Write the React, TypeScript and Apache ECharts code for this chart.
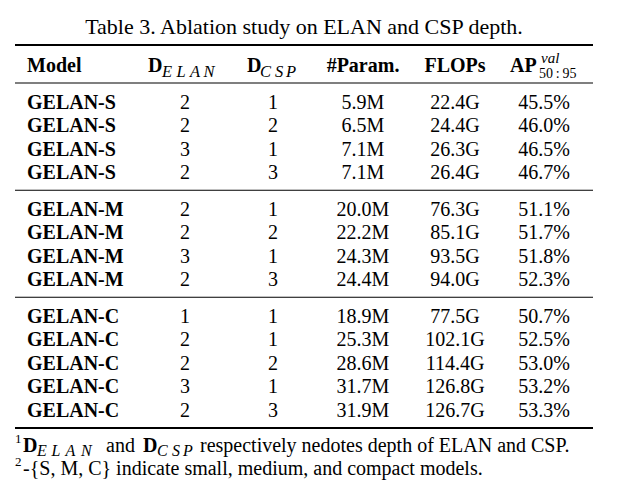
import React, { useEffect, useRef } from "react";
import * as echarts from "echarts";

const title = "Table 3. Ablation study on ELAN and CSP depth.";
const headers = ["Model", "#Param.", "FLOPs"];
const models = [
  "GELAN-S", "GELAN-S", "GELAN-S", "GELAN-S",
  "GELAN-M", "GELAN-M", "GELAN-M", "GELAN-M",
  "GELAN-C", "GELAN-C", "GELAN-C", "GELAN-C", "GELAN-C",
];
const dElan = [2, 2, 3, 2, 2, 2, 3, 2, 1, 2, 2, 3, 2];
const dCsp = [1, 2, 1, 3, 1, 2, 1, 3, 1, 1, 2, 1, 3];
const paramsM = [5.9, 6.5, 7.1, 7.1, 20.0, 22.2, 24.3, 24.4, 18.9, 25.3, 28.6, 31.7, 31.9];
const flopsG = [22.4, 24.4, 26.3, 26.4, 76.3, 85.1, 93.5, 94.0, 77.5, 102.1, 114.4, 126.8, 126.7];
const ap = [45.5, 46.0, 46.5, 46.7, 51.1, 51.7, 51.8, 52.3, 50.7, 52.5, 53.0, 53.2, 53.3];
const groupSizes = [4, 4, 5];
const footnote1 = "respectively nedotes depth of ELAN and CSP.";
const footnote2 = "-{S, M, C} indicate small, medium, and compact models.";

const FONT = "'Liberation Serif', 'Times New Roman', serif";

export default function App() {
  const ref = useRef<HTMLDivElement>(null);
  useEffect(() => {
    document.body.style.margin = "0";
    const chart = echarts.init(ref.current!, null, { renderer: "svg" });
    const els: any[] = [];
    const txt = (text: string, x: number, y: number, o: any = {}) => {
      const align = o.align || "left";
      els.push({
        type: "text",
        x,
        y,
        silent: true,
        style: {
          text,
          fill: "#000",
          fontFamily: FONT,
          fontSize: 20,
          fontWeight: "normal",
          fontStyle: "normal",
          ...o,
          align,
          textAlign: align,
          verticalAlign: "middle",
          textVerticalAlign: "middle",
        },
      });
    };
    const rule = (y: number, h: number) =>
      els.push({ type: "rect", silent: true, shape: { x: 15, y: y - h / 2, width: 578, height: h }, style: { fill: "#000" } });
    const sub = (letters: string, x0: number, offs: number[], y: number, size = 16.5) => {
      letters.split("").forEach((ch, i) =>
        txt(ch, x0 + offs[i], y, { fontSize: size, fontStyle: "italic" })
      );
    };

    // Title
    txt(title, 304, 26, { fontSize: 22, align: "center" });

    // Rules
    rule(45, 2.2);
    rule(83, 1.2);
    rule(428, 2.2);

    // Header
    const hy = 65;
    txt(headers[0], 27, hy, { fontWeight: "bold" });
    txt("D", 148, hy, { fontWeight: "bold" });
    sub("ELAN", 162, [0, 14.5, 28, 41.5], hy + 6.5);
    txt("D", 247, hy, { fontWeight: "bold" });
    sub("CSP", 260, [0, 15, 26], hy + 6.5);
    txt(headers[1], 363, hy, { fontWeight: "bold", align: "center" });
    txt(headers[2], 455, hy, { fontWeight: "bold", align: "center" });
    txt("AP", 510, hy, { fontWeight: "bold" });
    txt("val", 541, hy - 7, { fontSize: 15, fontStyle: "italic" });
    txt("50\u2009:\u200995", 539, hy + 8, { fontSize: 14 });

    // Rows
    const groupStarts = [101.5, 208.5, 315.5];
    const step = 23.5;
    let idx = 0;
    groupSizes.forEach((n, g) => {
      for (let k = 0; k < n; k++) {
        const y = groupStarts[g] + k * step;
        txt(models[idx], 27, y, { fontWeight: "bold" });
        txt(String(dElan[idx]), 185, y, { align: "center" });
        txt(String(dCsp[idx]), 273, y, { align: "center" });
        txt(paramsM[idx].toFixed(1) + "M", 363, y, { align: "center" });
        txt(flopsG[idx].toFixed(1) + "G", 455, y, { align: "center" });
        txt(ap[idx].toFixed(1) + "%", 544, y, { align: "center" });
        idx++;
      }
      if (g < groupSizes.length - 1) {
        const lastY = groupStarts[g] + (n - 1) * step;
        rule((lastY + groupStarts[g + 1]) / 2, 1.2);
      }
    });

    // Footnotes
    const f1 = 445;
    txt("1", 15, f1 - 7, { fontSize: 13 });
    txt("D", 23, f1, { fontWeight: "bold" });
    sub("ELAN", 37, [0, 14.5, 28.5, 44], f1 + 5, 16);
    txt("and", 106, f1);
    txt("D", 143, f1, { fontWeight: "bold" });
    sub("CSP", 157, [0, 15, 26], f1 + 5, 16);
    txt(footnote1, 200, f1);
    const f2 = 468;
    txt("2", 15, f2 - 7, { fontSize: 13 });
    txt(footnote2, 23, f2);

    chart.setOption({
      animation: false,
      backgroundColor: "#fff",
      graphic: { elements: els },
    });
    return () => chart.dispose();
  }, []);
  return <div ref={ref} style={{ width: 638, height: 502 }} />;
}
